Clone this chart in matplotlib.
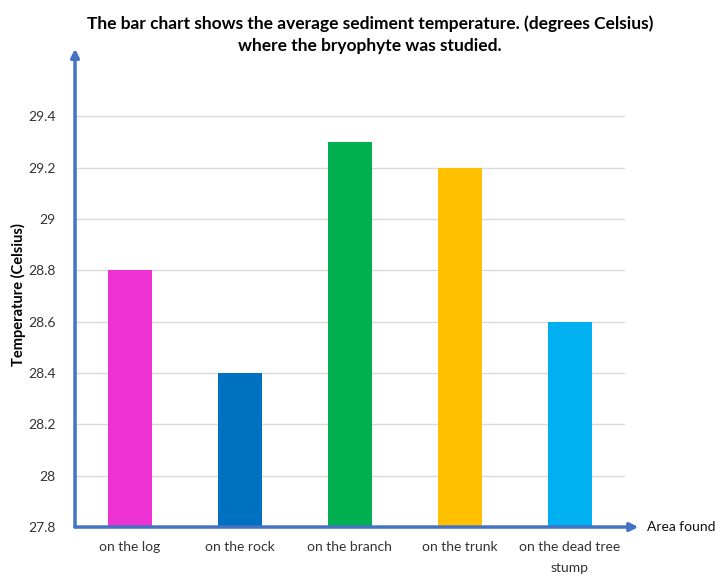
import matplotlib.pyplot as plt
import numpy as np

plt.rcParams['font.family'] = ['Lato', 'DejaVu Sans']

areas = ['on the log', 'on the rock', 'on the branch', 'on the trunk', 'on the dead tree\nstump']
temps = [28.8, 28.4, 29.3, 29.2, 28.6]
colors = ['#EE32D2', '#0070C0', '#00B050', '#FFC000', '#00B0F0']
yticks = [27.8, 28.0, 28.2, 28.4, 28.6, 28.8, 29.0, 29.2, 29.4]
ytick_labels = ['27.8', '28', '28.2', '28.4', '28.6', '28.8', '29', '29.2', '29.4']

fig = plt.figure(figsize=(7.18, 5.78), dpi=100)
ax = fig.add_axes([0.1045, 0.0882, 0.7655, 0.7995])

x = np.arange(len(areas))
ax.bar(x, np.array(temps) - 27.8, bottom=27.8, width=0.4, color=colors, zorder=3)

ax.set_xlim(-0.5, 4.5)
ax.set_ylim(27.8, 29.6)
ax.set_yticks(yticks)
ax.set_yticklabels(ytick_labels)
ax.set_xticks(x)
ax.set_xticklabels(areas, linespacing=1.9, va='top')
ax.tick_params(axis='both', length=0, labelsize=10, colors='#333333')
ax.tick_params(axis='x', pad=10)
ax.tick_params(axis='y', pad=14)
ax.grid(axis='y', color='#D9D9D9', linewidth=1, zorder=0)
for s in ax.spines.values():
    s.set_visible(False)

# axis arrows
ax.annotate('', xy=(0, 1.035), xytext=(0, 0), xycoords='axes fraction',
            arrowprops=dict(arrowstyle='-|>', color='#4472C4', lw=2.5, mutation_scale=12,
                            shrinkA=0, shrinkB=0), annotation_clip=False, zorder=5)
ax.annotate('', xy=(1.025, 0), xytext=(0, 0), xycoords='axes fraction',
            arrowprops=dict(arrowstyle='-|>', color='#4472C4', lw=2.5, mutation_scale=12,
                            shrinkA=0, shrinkB=0), annotation_clip=False, zorder=5)

ax.text(1.04, 0, 'Area found', transform=ax.transAxes, fontsize=10, color='#111111',
        va='center', ha='left')
fig.text(0.026, 0.49, 'Temperature (Celsius)', rotation=90, fontsize=10.5,
         fontweight='bold', ha='center', va='center')

fig.text(0.515, 0.94, 'The bar chart shows the average sediment temperature. (degrees Celsius)\nwhere the bryophyte was studied.',
         ha='center', va='center', fontsize=12.5, fontweight='bold', linespacing=1.45)

fig.savefig('out.png', dpi=100)
